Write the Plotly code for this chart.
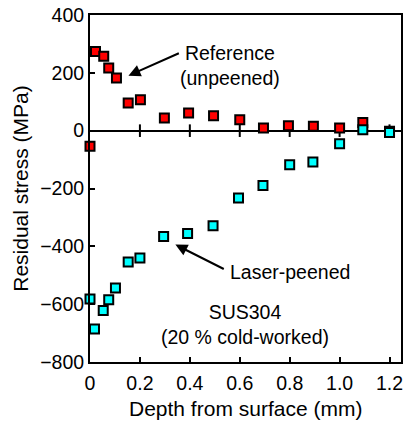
import plotly.graph_objects as go

# Data
depth_ref = [0.0, 0.022, 0.055, 0.075, 0.106, 0.153, 0.202, 0.298, 0.395, 0.495, 0.6, 0.695, 0.795, 0.895, 1.0, 1.093, 1.2]
stress_ref = [-54, 274, 257, 217, 182, 96, 107, 44, 61, 52, 38, 9, 17, 15, 9, 28, -2]

depth_lp = [0.0, 0.018, 0.053, 0.075, 0.102, 0.153, 0.2, 0.295, 0.391, 0.493, 0.595, 0.693, 0.8, 0.893, 1.0, 1.093, 1.2]
stress_lp = [-582, -686, -622, -585, -544, -454, -440, -366, -356, -329, -233, -190, -118, -108, -45, 3, -6]

x_tick_vals = [0, 0.2, 0.4, 0.6, 0.8, 1.0, 1.2]
x_tick_text = ["0", "0.2", "0.4", "0.6", "0.8", "1.0", "1.2"]
y_tick_vals = [-800, -600, -400, -200, 0, 200, 400]
zero_ticks = [0.2, 0.4, 0.6, 0.8, 1.0, 1.2]

FONT = "Arial, Liberation Sans, sans-serif"

fig = go.Figure()

# tick marks crossing the zero line
fig.add_trace(go.Scatter(
    x=zero_ticks, y=[0] * len(zero_ticks), mode="markers",
    marker=dict(symbol="line-ns", size=9, line=dict(color="black", width=2)),
    hoverinfo="skip", showlegend=False, cliponaxis=False))

fig.add_trace(go.Scatter(
    x=depth_ref, y=stress_ref, mode="markers", name="Reference",
    marker=dict(symbol="square", size=9, color="#ff0000", line=dict(color="black", width=2)),
    showlegend=False, cliponaxis=False))

fig.add_trace(go.Scatter(
    x=depth_lp, y=stress_lp, mode="markers", name="Laser-peened",
    marker=dict(symbol="square", size=9, color="#00ffff", line=dict(color="black", width=2)),
    showlegend=False, cliponaxis=False))

txt = dict(family=FONT, size=19.5, color="black")
ttl = dict(family=FONT, size=21, color="black")

annotations = [
    dict(x=0.562, y=226, xref="x", yref="y", text="Reference<br>(unpeened)", showarrow=False, font=txt),
    dict(x=0.154, y=190, ax=0.362, ay=270, xref="x", yref="y", axref="x", ayref="y", text="",
         showarrow=True, arrowhead=2, arrowsize=1.2, arrowwidth=2, arrowcolor="black"),
    dict(x=0.802, y=-488, xref="x", yref="y", text="Laser-peened", showarrow=False, font=txt),
    dict(x=0.342, y=-394, ax=0.542, ay=-481, xref="x", yref="y", axref="x", ayref="y", text="",
         showarrow=True, arrowhead=2, arrowsize=1.2, arrowwidth=2, arrowcolor="black"),
    dict(x=0.622, y=-669, xref="x", yref="y", text="SUS304<br>(20 % cold-worked)", showarrow=False, font=txt),
    # x-axis title
    dict(x=0.5, y=-0.135, xref="paper", yref="paper", xanchor="center", yanchor="middle",
         text="Depth from surface (mm)", showarrow=False, font=ttl),
]

fig.update_layout(
    width=405, height=423,
    margin=dict(l=90, r=4, t=15, b=61),
    paper_bgcolor="white", plot_bgcolor="white",
    font=dict(family=FONT, size=19.5, color="black"),
    annotations=annotations,
    xaxis=dict(
        range=[0, 1.246], tickvals=x_tick_vals, ticktext=x_tick_text,
        ticks="inside", ticklen=5, tickwidth=2, tickcolor="black",
        showline=True, linewidth=2, linecolor="black", mirror=True,
        showgrid=False, zeroline=False, automargin=False,
        ticklabelstandoff=3,
        tickfont=txt),
    yaxis=dict(
        range=[-800, 400], tickvals=y_tick_vals,
        ticks="inside", ticklen=5, tickwidth=2, tickcolor="black",
        showline=True, linewidth=2, linecolor="black", mirror=True,
        showgrid=False, zeroline=True, zerolinecolor="black", zerolinewidth=2,
        automargin=False,
        title=dict(text="Residual stress (MPa)", font=ttl, standoff=6),
        tickfont=txt),
)

fig.write_html("out.html", config={"displayModeBar": False},
               post_script="document.body.style.margin='0';document.body.style.overflow='hidden';")
